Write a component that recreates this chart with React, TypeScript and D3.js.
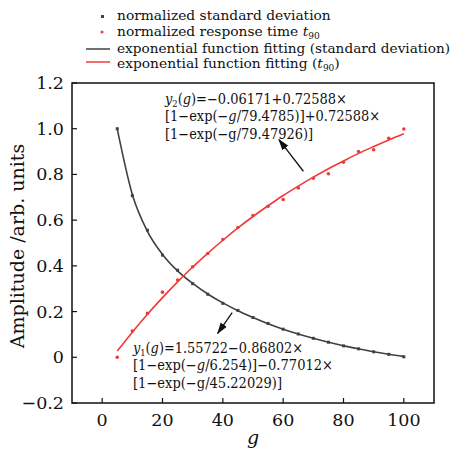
import React from 'react'
import * as d3 from 'd3'

// g values (5 .. 100)
const gValues = [5, 10, 15, 20, 25, 30, 35, 40, 45, 50, 55, 60, 65, 70, 75, 80, 85, 90, 95, 100]

// normalized standard deviation (points)
const stdPoints = [1.0, 0.707, 0.556, 0.447, 0.381, 0.322, 0.276, 0.236, 0.205, 0.174, 0.148, 0.123, 0.102, 0.083, 0.066, 0.05, 0.037, 0.024, 0.013, 0.002]
// normalized response time t90 (points)
const t90Points = [0.0, 0.115, 0.192, 0.285, 0.338, 0.396, 0.454, 0.515, 0.568, 0.62, 0.661, 0.69, 0.741, 0.783, 0.803, 0.853, 0.9, 0.908, 0.958, 0.999]

// fitted curves
const stdFit = [0.999, 0.712, 0.551, 0.45, 0.378, 0.323, 0.277, 0.238, 0.204, 0.174, 0.147, 0.123, 0.102, 0.083, 0.066, 0.05, 0.037, 0.024, 0.013, 0.004]
const t90Fit = [0.027, 0.11, 0.188, 0.261, 0.33, 0.395, 0.455, 0.512, 0.566, 0.616, 0.663, 0.708, 0.749, 0.788, 0.825, 0.859, 0.892, 0.922, 0.951, 0.978]

const xTicks = [0, 20, 40, 60, 80, 100]
const yTicks = [-0.2, 0, 0.2, 0.4, 0.6, 0.8, 1.0, 1.2]

const GRAY = '#404040'
const RED = '#f03a3a'
const FONT = 'DejaVu Serif, serif'

export default function App() {
    const width = 454
    const height = 450
    const left = 72
    const right = 434
    const top = 83
    const bottom = 403

    const x = d3.scaleLinear().domain([-10, 110]).range([left, right])
    const y = d3.scaleLinear().domain([-0.2, 1.2]).range([bottom, top])

    const line = d3
        .line<number>()
        .x((d, i) => x(gValues[i]))
        .y((d) => y(d))
        .curve(d3.curveMonotoneX)

    const fmt = (v: number) => (v === 0 ? '0' : v.toFixed(1).replace('-', '\u2212'))

    // annotation arrows in data units
    const arrow2 = { from: [66.7, 0.814], to: [58.6, 0.952] }
    const arrow1 = { from: [43.1, 0.195], to: [38.3, 0.105] }

    const sub = (t: string, size = 9) => (
        <tspan dy={3} fontSize={size}>
            {t}
        </tspan>
    )

    const fit = { lengthAdjust: 'spacingAndGlyphs' } as any

    return (
        <svg
            width={width}
            height={height}
            style={{ position: 'absolute', left: 0, top: 0, background: '#fff' }}
            fontFamily={FONT}
        >
            <defs>
                <marker id="ah" viewBox="0 0 10 10" refX="9" refY="5" markerWidth="9" markerHeight="9" orient="auto">
                    <path d="M0,1.8 L10,5 L0,8.2 Z" fill="#111" />
                </marker>
            </defs>

            {/* legend */}
            <g fontSize={13.8} fill="#111">
                <rect x={101} y={15} width={3} height={3} fill={GRAY} />
                <text x={117} y={20}>normalized standard deviation</text>
                <circle cx={102} cy={32} r={1.5} fill={RED} />
                <text x={117} y={36}>
                    normalized response time <tspan fontStyle="italic">t</tspan>
                    {sub('90')}
                </text>
                <line x1={86} x2={110} y1={49} y2={49} stroke={GRAY} strokeWidth={1.5} />
                <text x={117} y={53} textLength={333} {...fit}>
                    exponential function fitting (standard deviation)
                </text>
                <line x1={86} x2={110} y1={62} y2={62} stroke={RED} strokeWidth={1.5} />
                <text x={117} y={68}>
                    exponential function fitting (<tspan fontStyle="italic">t</tspan>
                    {sub('90')}
                    <tspan dy={-3}>)</tspan>
                </text>
            </g>

            {/* frame */}
            <rect x={left} y={top} width={right - left} height={bottom - top} fill="none" stroke="#111" strokeWidth={1.5} />

            {/* axes */}
            <g fontSize={17.5} fill="#111">
                {yTicks.map((t) => (
                    <g key={t}>
                        <line x1={left} x2={left + 5} y1={y(t)} y2={y(t)} stroke="#111" strokeWidth={1.2} />
                        <text x={left - 8} y={y(t) + 6} textAnchor="end">
                            {fmt(t)}
                        </text>
                    </g>
                ))}
                {xTicks.map((t) => (
                    <g key={t}>
                        <line x1={x(t)} x2={x(t)} y1={bottom} y2={bottom - 5} stroke="#111" strokeWidth={1.2} />
                        <text x={x(t)} y={426} textAnchor="middle">
                            {t}
                        </text>
                    </g>
                ))}
            </g>
            <text x={(left + right) / 2} y={444} textAnchor="middle" fontStyle="italic" fontSize={19} fill="#111">
                g
            </text>
            <text transform="translate(24, 246) rotate(-90)" textAnchor="middle" fontSize={19} fill="#111">
                Amplitude /arb. units
            </text>

            {/* fits */}
            <path d={line(stdFit) || ''} fill="none" stroke={GRAY} strokeWidth={1.6} />
            <path d={line(t90Fit) || ''} fill="none" stroke={RED} strokeWidth={1.6} />

            {/* points */}
            {stdPoints.map((v, i) => (
                <rect key={'s' + i} x={x(gValues[i]) - 1.5} y={y(v) - 1.5} width={3} height={3} fill={GRAY} />
            ))}
            {t90Points.map((v, i) => (
                <circle key={'t' + i} cx={x(gValues[i])} cy={y(v)} r={1.8} fill={RED} />
            ))}

            {/* annotations */}
            <line
                x1={x(arrow2.from[0])}
                y1={y(arrow2.from[1])}
                x2={x(arrow2.to[0])}
                y2={y(arrow2.to[1])}
                stroke="#111"
                strokeWidth={1.3}
                markerEnd="url(#ah)"
            />
            <line
                x1={x(arrow1.from[0])}
                y1={y(arrow1.from[1])}
                x2={x(arrow1.to[0])}
                y2={y(arrow1.to[1])}
                stroke="#111"
                strokeWidth={1.3}
                markerEnd="url(#ah)"
            />
            <g fontSize={14} fill="#111">
                <text x={165} y={104} textLength={182} {...fit}>
                    <tspan fontStyle="italic">y</tspan>
                    {sub('2', 9)}
                    <tspan dy={-3}>(</tspan>
                    <tspan fontStyle="italic">g</tspan>)=−0.06171+0.72588×
                </text>
                <text x={165} y={121} textLength={215} {...fit}>
                    [1−exp(−<tspan fontStyle="italic">g</tspan>/79.4785)]+0.72588×
                </text>
                <text x={165} y={139} textLength={148} {...fit}>
                    [1−exp(−g/79.47926)]
                </text>

                <text x={133} y={353} textLength={170} {...fit}>
                    <tspan fontStyle="italic">y</tspan>
                    {sub('1', 9)}
                    <tspan dy={-3}>(</tspan>
                    <tspan fontStyle="italic">g</tspan>)=1.55722−0.86802×
                </text>
                <text x={133} y={370} textLength={200} {...fit}>
                    [1−exp(−<tspan fontStyle="italic">g</tspan>/6.254)]−0.77012×
                </text>
                <text x={133} y={388} textLength={149} {...fit}>
                    [1−exp(−g/45.22029)]
                </text>
            </g>
        </svg>
    )
}
